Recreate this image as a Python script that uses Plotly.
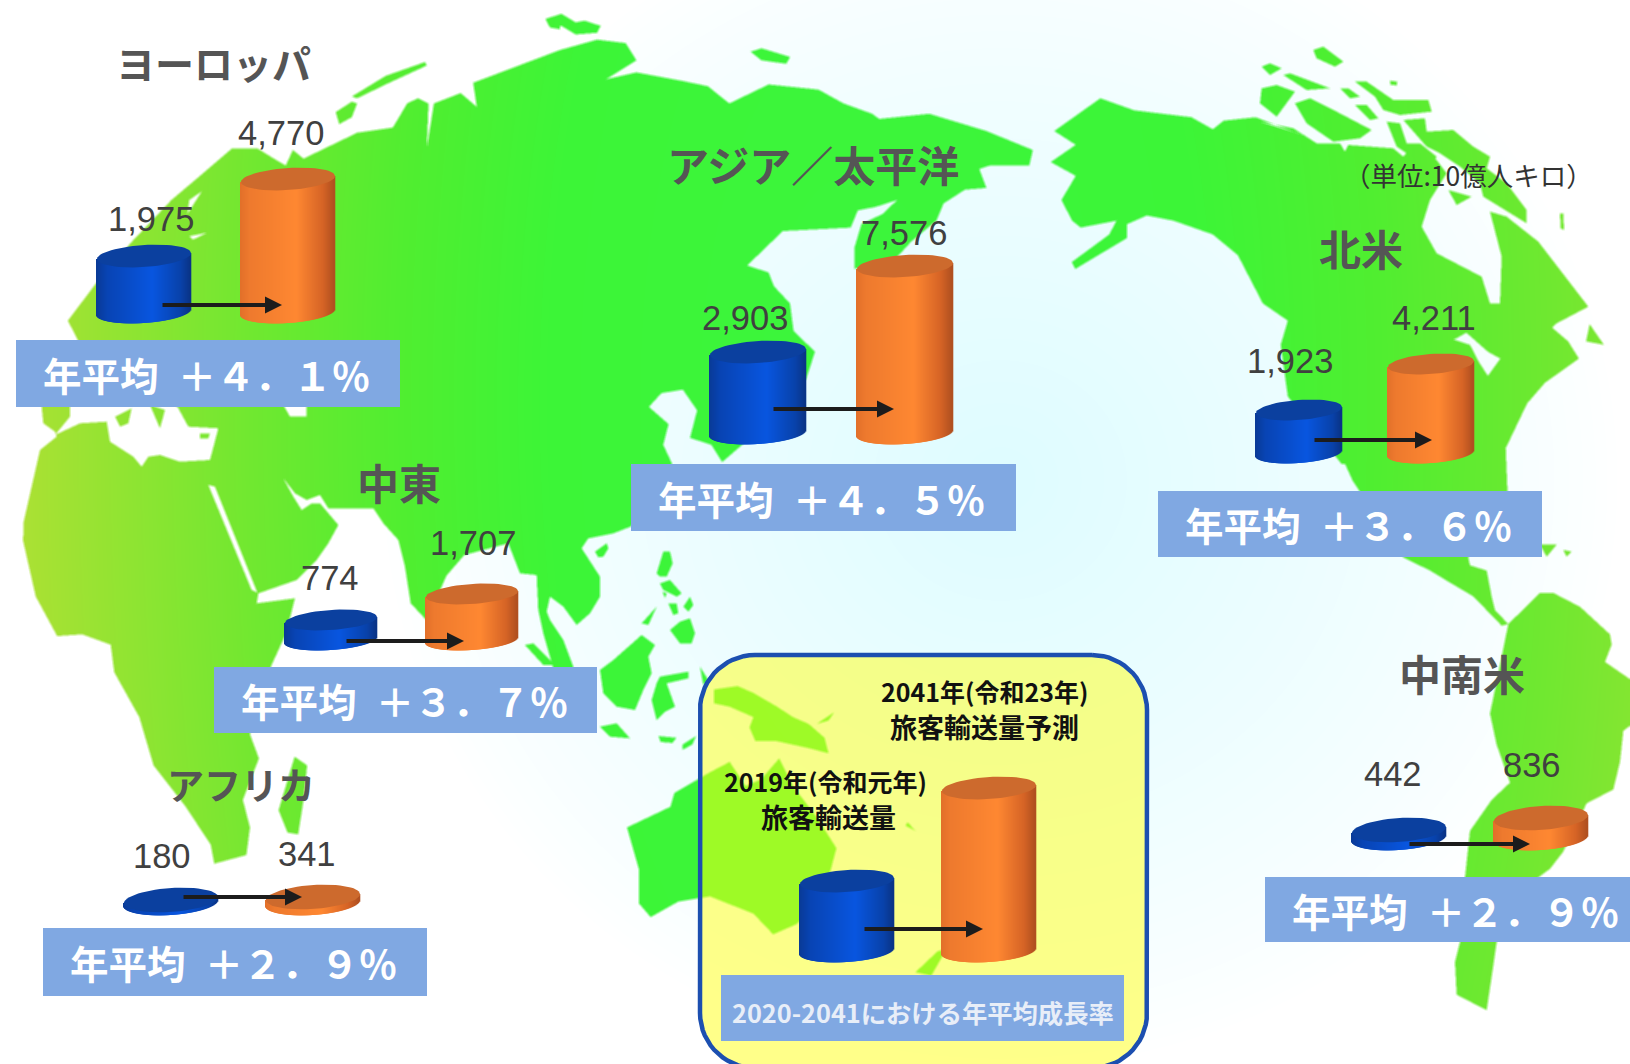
import base64, struct, zlib
import numpy as np
import plotly.graph_objects as go

W, H = 1630, 1064

# ---------- data ----------
regions = ["ヨーロッパ", "アジア／太平洋", "北米", "中東", "アフリカ", "中南米"]
passenger_2019 = [1975, 2903, 1923, 774, 180, 442]
passenger_2041 = [4770, 7576, 4211, 1707, 341, 836]
growth = ["＋４．１％", "＋４．５％", "＋３．６％", "＋３．７％", "＋２．９％", "＋２．９％"]

# ---------- layout of each region panel (pixels) ----------
panels = [
    dict(t=(213, 62, 39), c=(144, 288), rx=47, ry=11, base=312, h=(56, 133), l=((151, 219), (281, 133)), a=(161, 282, 305), b=(16, 400, 340, 407)),
    dict(t=(813, 163, 42), c=(758, 905), rx=48, ry=11, base=433, h=(81, 167), l=((745, 318), (904, 233)), a=(772, 894, 409), b=(631, 1016, 464, 531)),
    dict(t=(1361, 247, 42), c=(1299, 1431), rx=43, ry=10, base=453, h=(43, 89), l=((1290, 361), (1434, 318)), a=(1313, 1432, 440), b=(1158, 1542, 491, 557)),
    dict(t=(399, 481, 42), c=(331, 472), rx=46, ry=10, base=640, h=(20, 46), l=((330, 578), (473, 543)), a=(345, 464, 641), b=(214, 597, 667, 733)),
    dict(t=(241, 784, 37), c=(171, 313), rx=47, ry=12, base=903, h=(3, 6), l=((162, 856), (307, 854)), a=(182, 302, 897), b=(43, 427, 928, 996)),
    dict(t=(1462, 672, 42), c=(1399, 1541), rx=47, ry=12, base=838, h=(8, 20), l=((1393, 774), (1532, 765)), a=(1408, 1530, 844), b=(1265, 1649, 877, 942)),
]
# The key at the bottom has no figures; its two bars are drawn to pixel heights.
key_heights = [70, 163]
key_panel = dict(c=(847, 989), rx=47, ry=11, base=951, a=(863, 983, 929))

def zz(x0, y0, sx, sy):
    return lambda pts: [(x0 + a / sx, y0 + b / sy) for a, b in pts]
z1 = zz(0, 0, 2.8, 2.9)
z2 = zz(540, 0, 2.8, 2.9)
z3 = zz(1070, 0, 2.8, 2.9)
z4 = zz(0, 524, 2.8, 2.9)
z5 = zz(540, 524, 2.53, 2.9)
z6 = zz(1130, 524, 3.0, 2.9)
za = zz(500, 480, 3, 3)
zb = zz(1260, 40, 3, 3)
zc = zz(0, 400, 3, 3)

eurasia_africa = (
    z1([(225,1000),(190,930),(270,820),(370,700),(480,580),(560,510),(650,430),(720,430),(775,465),(800,480),(820,435),(850,460),(1000,385),(1100,370),(1140,300),(1170,285),(1200,300),(1195,430),(1215,300),(1290,270),(1335,310),(1325,240),(1568,145)])
    + z2([(160,115),(240,125),(270,175),(185,230),(270,210),(400,235),(470,250),(530,300),(640,245),(780,260),(850,300),(930,330),(950,345),(1090,330),(1250,380),(1380,435),(1370,480),(1260,480),(1230,490),(1250,545),(1190,550),(1130,590),(1110,640),(1040,700),(1000,745),(880,780),(880,720),(900,650),(960,620),(1000,580),(940,600),(890,610),(870,660),(680,670),(640,710),(580,770),(640,790),(655,830),(700,880),(710,960),(770,1020),(745,1100),(600,1260),(510,1340),(480,1290),(420,1270),(440,1190),(400,1130),(340,1140),(305,1180),(360,1230),(345,1290),(370,1345)])
    + za([(392,140),(340,160),(265,175),(245,205),(300,290),(300,350),(270,400),(230,435),(190,380),(150,350),(140,395),(150,420),(190,480),(220,560),(215,600),(170,600),(130,460),(115,390),(110,285),(60,280),(25,190)])
    + z4([(1300,90),(1250,150),(1195,280),(1150,230)])
    + zc([(1215,500),(1195,420),(1150,370),(1120,325),(985,325),(960,285),(920,300),(885,280),(850,235),(880,290),(905,330),(935,310),(960,310),(1015,375),(985,430),(950,480),(890,540),(775,580),(770,610),(885,595)])
    + z4([(800,320),(760,410),(700,610),(725,680),(680,800),(700,880),(690,960),(600,985),(590,930),(520,820),(430,700),(390,560),(320,430),(310,350),(230,320),(160,325),(100,210),(65,50)])
    + zc([(70,370),(120,150),(170,110),(165,95),(130,70),(125,20)])
)
north_america = (
    z3([(85,285),(180,320),(340,340),(400,375),(430,350),(520,340),(620,380),(680,400)])
    + zb([(0,245),(100,265),(170,310),(240,310),(255,335),(265,315),(400,325),(430,350),(450,325),(530,360),(560,400),(510,480),(485,560),(530,640),(665,710),(690,790),(720,790),(725,650),(690,515),(740,530),(835,605),(985,800),(890,850)])
    + z3([(1350,950),(1395,990),(1425,1040),(1330,1110),(1280,1170),(1220,1300),(1225,1425)])
    + z6([(1015,97),(1020,120),(1070,135),(1085,210),(1095,250),(1135,290),(1115,295),(1080,260),(1030,210),(960,170),(900,135),(820,97)])
    + z3([(760,1345),(610,1150),(590,1000),(610,930),(540,880),(470,740),(400,680),(290,640),(215,625),(160,650),(160,690),(15,780),(5,760),(110,680),(130,640),(30,660)])
    + z2([(1490,640),(1460,580),(1500,510),(1430,470),(1500,420),(1440,380)])
)
south_america = z6([(1135,290),(1230,200),(1270,200),(1350,240),(1440,320),(1445,350),(1425,400),(1500,450),(1520,570),(1480,600),(1470,690),(1450,770),(1370,810),(1300,950),(1260,1000),(1225,1025),(1100,1212),(1090,1280),(1070,1410),(980,1365),(975,1270),(990,1212),(1005,1025),(1020,890),(1085,800),(1140,750),(1100,640),(1080,550),(1095,480)])
land = [eurasia_africa, north_america, south_america]

water = [
    zc([(625,255),(645,260),(772,578),(755,570)]),
    zc([(210,15),(210,50),(165,105),(240,70),(320,65),(330,125),(400,170),(425,200),(445,170),(480,165),(540,185),(630,180),(655,85),(565,80),(535,25),(525,15)]),
    zc([(850,15),(920,15),(920,50),(870,50)]),
    z1([(530,580),(565,555),(525,620)]), z1([(530,685),(580,675),(540,695)]),
    z3([(755,1345),(770,1345),(805,1425),(790,1425)]),
    z3([(540,885),(610,930),(605,940),(545,900)]),
    z3([(1075,985),(1110,965),(1170,1020),(1205,1040),(1170,1090),(1145,1050),(1120,1000)]),
]
islands = [
    zc([(345,50),(395,25),(385,70),(360,80)]), zc([(450,15),(495,30),(480,85)]),
    zc([(600,100),(630,100),(625,115),(600,115)]),
    z1([(985,280),(1080,220),(1190,180),(1195,190),(1090,240),(1000,285)]),
    z1([(940,325),(985,295),(1000,300),(985,340),(950,360)]),
    z1([(1530,60),(1568,45),(1568,85),(1540,80)]),
    z2([(15,55),(60,40),(100,65),(125,60),(170,75),(160,95),(100,100),(60,75),(25,75)]),
    z2([(590,150),(620,140),(700,165),(690,185),(620,175)]),
    zb([(160,30),(190,20),(250,65),(225,80),(170,55)]),
    zb([(5,80),(30,70),(65,85),(30,105)]),
    zb([(70,105),(90,100),(210,145),(140,150)]),
    zb([(5,145),(50,135),(105,155),(50,230),(0,190)]),
    zb([(105,190),(150,175),(230,215),(335,270),(300,295),(220,305),(140,250)]),
    zb([(240,145),(265,145),(300,170),(270,175)]),
    zb([(285,125),(320,125),(400,180),(505,180),(515,215),(420,225),(370,210),(345,170)]),
    zb([(285,195),(320,195),(355,235),(330,240)]),
    zb([(390,122),(412,125),(410,136),(392,135)]),
    zb([(380,245),(420,250),(440,310),(480,310),(530,350),(520,370),(440,340),(410,320)]),
    zb([(430,240),(495,235),(500,275),(580,270),(640,320),(690,350),(680,385),(740,430),(800,510),(800,550),(670,470),(660,430),(600,380),(540,340),(500,320)]),
    zb([(565,450),(635,470),(590,495)]),
    zb([(900,520),(910,520),(912,570),(902,565)]),
    z3([(1445,990),(1455,940),(1495,1000)]),
    z6([(1230,60),(1280,60),(1250,95)]), z6([(1300,75),(1325,80),(1310,95)]),
    z4([(825,675),(860,700),(850,800),(835,900),(805,895),(780,830)]),
    za([(75,495),(100,490),(165,555),(130,555)]),
    za([(285,215),(320,190),(325,205),(310,230),(295,232)]),
    za([(490,215),(510,215),(518,250),(500,290),(480,290),(470,280)]),
    za([(480,310),(510,300),(545,340),(530,350),(490,330)]),
    za([(488,335),(500,340),(495,355)]),
    za([(425,430),(470,380),(445,435)]),
    za([(505,370),(530,370),(535,400),(520,405)]),
    za([(550,380),(570,350),(580,375),(565,395)]),
    za([(510,450),(540,425),(570,415),(585,460),(575,490),(540,490)]),
    za([(300,570),(340,540),(425,465),(465,495),(445,530),(455,580),(430,630),(405,690),(350,680),(310,640)]),
    za([(480,590),(565,575),(565,595),(500,610),(525,680),(495,695),(470,720),(455,660),(470,610)]),
    za([(600,560),(625,600),(610,615)]),
    za([(300,740),(350,730),(390,775),(330,770)]),
    z5([(300,615),(345,620),(335,635),(305,632)]),
    z5([(360,640),(395,615),(385,640),(360,655)]),
    z5([(220,880),(330,820),(340,780),(400,740),(430,720),(480,690),(520,760),(560,740),(605,680),(640,760),(700,850),(750,940),(720,1070),(650,1160),(590,1190),(540,1130),(430,1080),(350,1095),(280,1140),(250,1100),(250,1000)]),
    z5([(440,480),(500,470),(540,490),(600,530),(640,560),(680,580),(720,620),(730,665),(680,650),(640,640),(600,630),(545,630),(530,590),(540,560),(480,530),(440,520)]),
    z5([(700,580),(745,545),(730,570)]),
    z5([(950,1300),(1005,1240),(1030,1230),(990,1310)]),
    z5([(930,865),(950,890),(925,875)]),
]

# ---------- draw the map into a picture ----------
SS = 2
def raster(polys):
    out = np.zeros((H * SS, W * SS), dtype=bool)
    for poly in polys:
        p = np.array(poly, float) * SS
        x1, y1 = p[:, 0], p[:, 1]
        x2, y2 = np.roll(x1, -1), np.roll(y1, -1)
        for row in range(max(0, int(y1.min())), min(H * SS, int(y1.max()) + 1)):
            yy = row + 0.5
            k = (y1 <= yy) != (y2 <= yy)
            if not k.any():
                continue
            xs = np.sort(x1[k] + (yy - y1[k]) * (x2[k] - x1[k]) / (y2[k] - y1[k]))
            for a, b in zip(xs[::2], xs[1::2]):
                out[row, max(0, int(round(a))):max(0, int(round(b)))] = True
    return out

mask = raster(land) & ~raster(water) | raster(islands)
alpha = mask.reshape(H, SS, W, SS).mean(axis=(1, 3))
# the reference has soft edges: a 3x3 box blur that does not wrap round the picture
pad = np.pad(alpha, 1, mode="edge")
alpha = sum(pad[1 + i:H + 1 + i, 1 + j:W + 1 + j] for i in (-1, 0, 1) for j in (-1, 0, 1)) / 9
alpha = alpha[..., None]

yy, xx = np.mgrid[0:H, 0:W]
d_sea = np.hypot(xx - 1000, (yy - 480) * 1.05)
t = np.clip(1 - d_sea / 620, 0, 1)[..., None] ** 0.8
sea = 255 + t * (np.array([222, 252, 255]) - 255)

dx = np.where(xx > 850, (xx - 850) * 0.85, 850 - xx)
d_land = np.hypot(dx, (yy - 400) * 0.4)
stops = [0, 300, 450, 600, 850]
rgb = [(60, 245, 60), (60, 245, 55), (80, 238, 48), (112, 232, 48), (176, 224, 52)]
land_col = np.stack([np.interp(d_land, stops, [c[i] for c in rgb]) for i in range(3)], axis=-1)
img = (sea * (1 - alpha) + land_col * alpha).round().astype(np.uint8)

def png_uri(a):
    raw = b"".join(b"\x00" + a[r].tobytes() for r in range(a.shape[0]))
    def chunk(tag, data):
        return struct.pack(">I", len(data)) + tag + data + struct.pack(">I", zlib.crc32(tag + data) & 0xffffffff)
    png = (b"\x89PNG\r\n\x1a\n" + chunk(b"IHDR", struct.pack(">IIBBBBB", a.shape[1], a.shape[0], 8, 2, 0, 0, 0))
           + chunk(b"IDAT", zlib.compress(raw, 6)) + chunk(b"IEND", b""))
    return "data:image/png;base64," + base64.b64encode(png).decode()

fig = go.Figure()
fig.add_trace(go.Image(source=png_uri(img), x0=0.5, y0=0.5, dx=1, dy=1, xaxis="x", yaxis="y", hoverinfo="skip"))

# ---------- key box ----------
bx0, bx1, by0, by1, br = 700, 1147, 655, 1068, 55
ang = np.linspace(0, np.pi / 2, 16)
bxs = np.concatenate([bx1 - br + br * np.sin(ang), bx1 - br + br * np.cos(ang), bx0 + br - br * np.sin(ang), bx0 + br - br * np.cos(ang)])
bys = np.concatenate([by0 + br - br * np.cos(ang), by1 - br + br * np.sin(ang), by1 - br + br * np.cos(ang), by0 + br - br * np.sin(ang)])
fig.add_trace(go.Scatter(x=np.append(bxs, bxs[0]), y=np.append(bys, bys[0]), mode="lines", fill="toself",
                         fillcolor="rgba(255,255,20,0.5)", line=dict(color="#1c4fb0", width=4.5),
                         hoverinfo="skip", xaxis="x", yaxis="y"))

# ---------- cylinders ----------
BLUE = dict(stops=[0, .12, .6, .9, 1], cols=[(10, 58, 150), (8, 68, 180), (8, 86, 224), (9, 66, 170), (10, 52, 135)], cap="#0b409f")
ORANGE = dict(stops=[0, .1, .6, .88, 1], cols=[(226, 112, 42), (238, 122, 46), (255, 136, 50), (214, 100, 38), (176, 80, 32)], cap="#cd6a2d")
TILT = 3.0

def cylinder(cx, rx, ry, value, base_value, per_px, style, yaxis):
    n = int(rx) * 2
    edges = np.linspace(-1, 1, n + 1)
    u = (edges[:-1] + edges[1:]) / 2
    xs = cx + u * rx
    f = (u + 1) / 2
    cols = [f"rgb({int(np.interp(a, style['stops'], [c[0] for c in style['cols']]))},"
            f"{int(np.interp(a, style['stops'], [c[1] for c in style['cols']]))},"
            f"{int(np.interp(a, style['stops'], [c[2] for c in style['cols']]))})" for a in f]
    bottom = base_value - (ry * np.sqrt(1 - u ** 2) - TILT * u) * per_px
    top = value + TILT * u * per_px
    fig.add_trace(go.Bar(x=xs, y=top - bottom, base=bottom, width=2 * rx / n + 0.6, marker=dict(color=cols, line=dict(width=0)),
                         xaxis="x", yaxis=yaxis, hoverinfo="skip"))
    th = np.linspace(0, 2 * np.pi, 60)
    fig.add_trace(go.Scatter(x=cx + rx * np.cos(th), y=value + (TILT * np.cos(th) + ry * np.sin(th)) * per_px,
                             mode="lines", fill="toself", fillcolor=style["cap"], line=dict(width=0, color=style["cap"]),
                             xaxis="x", yaxis=yaxis, hoverinfo="skip"))

axes = {}
shapes = []
notes = []
JP = "Noto Sans CJK JP"

def arrow(a0, a1, y):
    notes.append(dict(x=a1, y=y, ax=a0, ay=y, xref="x", yref="y", axref="x", ayref="y", text="", showarrow=True,
                      arrowhead=2, arrowsize=0.85, arrowwidth=4, arrowcolor="#1c1c1c", standoff=0, startstandoff=0))

def value_axis(idx, base_px, per_px, base_value):
    axes[f"yaxis{idx}"] = dict(overlaying="y", visible=False, domain=[0, 1], fixedrange=True,
                               range=[base_value + (base_px - H) * per_px, base_value + base_px * per_px])

for i, p in enumerate(panels):
    v = (passenger_2019[i], passenger_2041[i])
    per_px = (v[1] - v[0]) / (p["h"][1] - p["h"][0])
    base_value = v[0] - p["h"][0] * per_px
    idx = i + 2
    value_axis(idx, p["base"], per_px, base_value)
    cylinder(p["c"][0], p["rx"], p["ry"], v[0], base_value, per_px, BLUE, f"y{idx}")
    cylinder(p["c"][1], p["rx"], p["ry"], v[1], base_value, per_px, ORANGE, f"y{idx}")
    arrow(p["a"][0], p["a"][1], p["a"][2])
    notes.append(dict(x=p["t"][0], y=p["t"][1], text=f"<b>{regions[i]}</b>", font=dict(family=JP, size=p["t"][2], color="#555555")))
    for (lx, ly), val in zip(p["l"], v):
        notes.append(dict(x=lx, y=ly, text=f"{val:,}", font=dict(family="Liberation Sans", size=34.5, color="#404040")))
    b = p["b"]
    shapes.append(dict(type="rect", x0=b[0], x1=b[1], y0=b[2], y1=b[3], xref="x", yref="y", fillcolor="#80a8e2", line=dict(width=0), layer="above"))
    notes.append(dict(x=b[0] + 190, y=(b[2] + b[3]) / 2, text=f"<b>年平均\u2002{growth[i]}</b>", font=dict(family=JP, size=38.5, color="white")))

# key cylinders
value_axis(8, key_panel["base"], 1, 0)
cylinder(key_panel["c"][0], key_panel["rx"], key_panel["ry"], key_heights[0], 0, 1, BLUE, "y8")
cylinder(key_panel["c"][1], key_panel["rx"], key_panel["ry"], key_heights[1], 0, 1, ORANGE, "y8")
arrow(*key_panel["a"])
shapes.append(dict(type="rect", x0=721, x1=1124, y0=975, y1=1041, xref="x", yref="y", fillcolor="#80a8e2", line=dict(width=0), layer="above"))

for x, y, s, size, col in [
    (984, 691, "<b>2041年(令和23年)</b>", 25, "#111111"),
    (984, 726, "<b>旅客輸送量予測</b>", 27, "#111111"),
    (825, 781, "<b>2019年(令和元年)</b>", 25, "#111111"),
    (828, 816, "<b>旅客輸送量</b>", 27, "#111111"),
    (923, 1012, "<b>2020-2041における年平均成長率</b>", 25.3, "#e8eef8"),
    (1468, 174, "（単位:10億人キロ）", 26.5, "#333333"),
]:
    notes.append(dict(x=x, y=y, text=s, font=dict(family=JP, size=size, color=col)))

for n in notes:
    n.setdefault("xref", "x")
    n.setdefault("yref", "y")
    n.setdefault("showarrow", False)
    n.setdefault("xanchor", "center")
    n.setdefault("yanchor", "middle")

fig.update_layout(
    width=W, height=H, margin=dict(l=0, r=0, t=0, b=0), showlegend=False, barmode="overlay",
    paper_bgcolor="white", plot_bgcolor="white",
    xaxis=dict(range=[0, W], visible=False, fixedrange=True, domain=[0, 1], constrain="range"),
    yaxis=dict(range=[H, 0], visible=False, fixedrange=True, domain=[0, 1], constrain="range"),
    shapes=shapes, annotations=notes, **axes,
)
fig.write_html("out.html", config=dict(displayModeBar=False),
               post_script="document.body.style.margin='0';document.documentElement.style.overflow='hidden';")
